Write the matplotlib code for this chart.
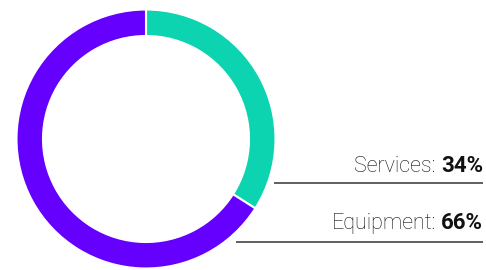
import matplotlib
matplotlib.use("Agg")
import matplotlib.pyplot as plt

labels = ["Services", "Equipment"]
shares = [34, 66]
colors = ["#0CD3B0", "#6500FF"]

fig = plt.figure(figsize=(4.86, 2.70), dpi=100)
ax = fig.add_axes([0, 0, 1, 1])

# donut, clockwise from the top
ax.pie(shares, colors=colors, startangle=90, counterclock=False,
       center=(146, 131), radius=129.5,
       wedgeprops=dict(width=26.5, edgecolor="white", linewidth=1.5),
       frame=True)
ax.set_xlim(0, 486)
ax.set_ylim(0, 270)
ax.set_aspect("equal")
ax.axis("off")

# label rows: (text baseline y, underline y, underline start x)
rows = [(98.5, 86.7, 274), (41, 28.3, 236)]
fig.canvas.draw()
renderer = fig.canvas.get_renderer()
inv = ax.transData.inverted()
for (lab, val), (ty, ly, lx) in zip(zip(labels, shares), rows):
    b = ax.text(483, ty, f"{val}%", ha="right", va="baseline",
                fontsize=16, fontweight="bold", family="Roboto", color="#111111")
    bb = b.get_window_extent(renderer)
    x0 = inv.transform((bb.x0, bb.y0))[0]
    ax.text(x0 - 5, ty, f"{lab}:", ha="right", va="baseline",
            fontsize=15.5, fontweight="light", family="Roboto", color="#111111")
    ax.plot([lx, 483], [ly, ly], color="#444444", lw=1.2, solid_capstyle="butt")

fig.savefig("out.png", dpi=100)
